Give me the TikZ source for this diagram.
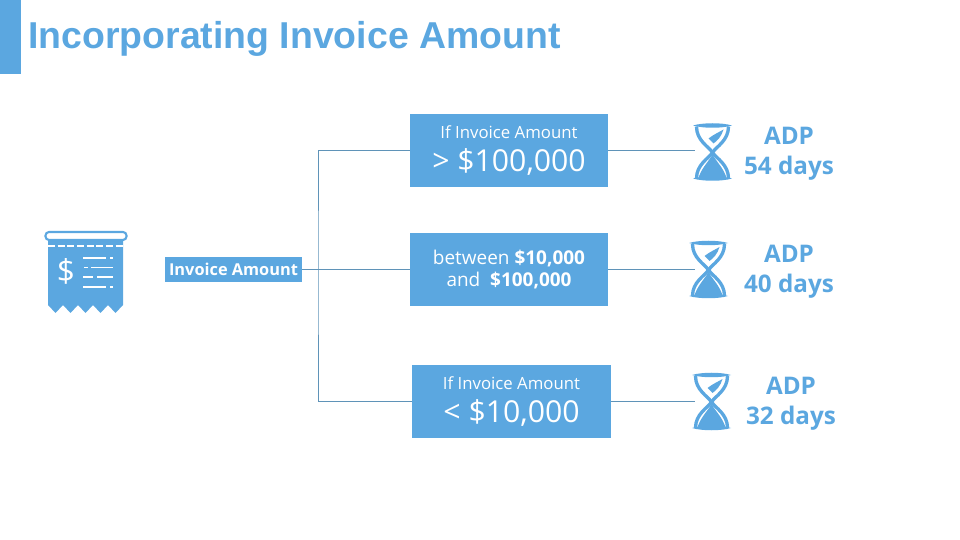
\documentclass[tikz,border=0pt]{standalone}
\usepackage{fontspec}
\setmainfont{Open Sans}
\newfontfamily\titlefont{Liberation Sans}
\definecolor{skyblue}{HTML}{5BA7E0}
\definecolor{linkblue}{HTML}{5F93B8}
\newcommand{\ifline}{\fontsize{9.55}{13}\selectfont}
\newcommand{\bigline}{\fontsize{17.2}{20}\selectfont}
\newcommand{\midline}{\fontsize{10.8}{13.2}\selectfont}
\tikzset{
  boxnode/.style={fill=skyblue,text=white,minimum width=3.96cm,minimum height=1.46cm,inner sep=0pt,align=center},
  adpnode/.style={text=skyblue,align=center,font=\fontsize{13.8}{17}\selectfont\bfseries},
  link/.style={draw=linkblue,line width=0.5pt},
  hourglass/.pic={
    \fill[skyblue] (-19.5,-27) .. controls (-10,-30) and (10,-30) .. (19.5,-27) .. controls (10,-24) and (-10,-24) .. (-19.5,-27);
    \fill[skyblue] (-19.5,26) .. controls (-10,23) and (10,23) .. (19.5,26) .. controls (10,29) and (-10,29) .. (-19.5,26);
    \draw[skyblue,line width=1.9pt] (-16,-26) .. controls (-16,-12) and (-4,-6) .. (0,0) .. controls (4,6) and (16,12) .. (16,26);
    \draw[skyblue,line width=1.9pt] (16,-26) .. controls (16,-12) and (4,-6) .. (0,0) .. controls (-4,6) and (-16,12) .. (-16,26);
    \fill[skyblue] (-14,25) .. controls (-10,14) and (-3,8) .. (0,2) .. controls (3,8) and (10,14) .. (14,25) -- cycle;
    \fill[skyblue] (-4,-14) .. controls (1,-18) and (6,-20) .. (11,-23) .. controls (9,-16) and (5,-12) .. (1,-9) -- cycle;
  }
}
\begin{document}
\begin{tikzpicture}[x=0.02cm,y=-0.02cm]
  \useasboundingbox (0,0) rectangle (960,540);
  \fill[skyblue] (0,0) rectangle (21,74);
  \node[anchor=west,inner sep=0pt,text=skyblue,font=\titlefont\fontsize{21.3}{24}\selectfont\bfseries] (heading) at (28,39) {Incorporating Invoice Amount};

  % receipt
  \draw[skyblue,line width=1.2pt,rounded corners=2pt] (45.5,232) rectangle (126.5,240);
  \fill[skyblue] (48,240) -- (123,240) -- (123,305) -- (115.5,313) -- (108,305) -- (100.5,313) -- (93,305) -- (85.5,313) -- (78,305) -- (70.5,313) -- (63,305) -- (55.5,313) -- (48,305) -- cycle;
  \draw[white,line width=1.4pt,dash pattern=on 4pt off 1.5pt] (48,246) -- (123,246);
  \node[text=white,inner sep=0pt,font=\fontsize{18}{20}\selectfont] (dollar) at (66,271) {\$};
  \draw[white,line width=1pt] (83,258) -- (106,258) (110,258) -- (113,258)
    (84,267.5) -- (88,267.5) (91,267.5) -- (113,267.5)
    (83,277) -- (93,277) (97,277) -- (113,277)
    (83,287) -- (106,287) (110,287) -- (113,287);

  % left box and branch
  \node[fill=skyblue,text=white,minimum width=2.74cm,minimum height=0.52cm,inner sep=0pt,font=\fontsize{9.3}{11}\selectfont\bfseries] (amount) at (233.5,269.5) {Invoice Amount};
  \coordinate (branch) at (318,269.5);

  \node[boxnode] (boxa) at (509,150.5) {{\ifline If Invoice Amount}\\[5pt]{\bigline > \$100,000}};
  \node[boxnode] (boxb) at (509,269.5) {\midline between \textbf{\$10,000}\\\midline and~ \textbf{\$100,000}};
  \node[boxnode,minimum width=3.98cm] (boxc) at (511.5,401.5) {{\ifline If Invoice Amount}\\[5pt]{\bigline < \$10,000}};

  \coordinate (glassa) at (695,150.5);
  \coordinate (glassb) at (695,269.5);
  \coordinate (glassc) at (695,401.5);
  \draw[link] (amount.east) -- (branch);
  \draw[link] (boxa.west) -| (branch) |- (boxc.west);
  \draw[link] (branch) -- (boxb.west);
  \draw[link] (boxa.east) -- (glassa);
  \draw[link] (boxb.east) -- (glassb);
  \draw[link] (boxc.east) -- (glassc);

  \pic at (712.5,152.5) {hourglass};
  \pic at (708.5,270) {hourglass};
  \pic at (711.5,402) {hourglass};

  \node[adpnode] (adpa) at (789,154) {ADP\\54 days};
  \node[adpnode] (adpb) at (789,272) {ADP\\40 days};
  \node[adpnode] (adpc) at (791,404) {ADP\\32 days};
\end{tikzpicture}
\end{document}
